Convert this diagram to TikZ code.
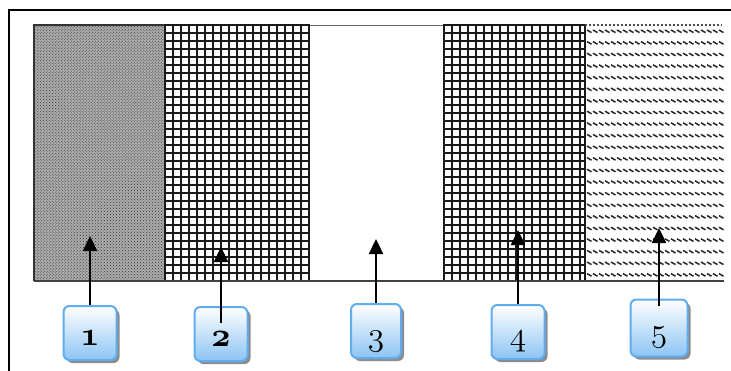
\documentclass[tikz,border=0pt]{standalone}
\usetikzlibrary{arrows.meta,shadows,patterns}
\definecolor{boxedge}{RGB}{95,172,238}
\definecolor{boxlow}{RGB}{140,196,243}
\newcommand\oldfig[1]{\scalebox{1.35}{\fontsize{24.88}{26}\usefont{OML}{cmm}{b}{it}#1}}
\newcommand\oldfiglight[1]{\scalebox{1.35}{\fontsize{24.88}{26}\usefont{OML}{cmm}{m}{it}#1}}
\begin{document}
\begin{tikzpicture}[x=1bp,y=-1bp,
  tag/.style={draw=boxedge, line width=2bp, rounded corners=6bp,
    top color=white, bottom color=boxlow,
    minimum width=53bp, minimum height=54bp, inner sep=0pt,
    drop shadow={shadow xshift=3bp, shadow yshift=-3bp, fill=black!45, opacity=1}},
  pointer/.style={line width=2.4bp, -{Triangle[length=15bp,width=14bp]}},
  digit/.style={anchor=base, inner sep=0pt},
  gridline/.style={line width=2bp, black!90},
  hatch/.style={line width=1.5bp, black!85},
]
\useasboundingbox (0,0) rectangle (731,370);

% outer frame (open to the right and bottom)
\draw[line width=2bp] (9,371) -- (9,10) -- (732,10);

% band 1: dense dark dots
\fill[black!32] (34,25) rectangle (164,281);
\fill[pattern=crosshatch dots, pattern color=black!80] (34,25) rectangle (164,281);
\draw[black!80, line width=1.2bp] (34,281) -- (34,25) -- (164,25);

% band 2: square grid
\foreach \i in {0,...,18}
  \draw[gridline] ({165+\i*8},25) -- ({165+\i*8},281);
\foreach \j in {0,...,32}
  \draw[gridline] (164,{25+\j*8}) -- (310,{25+\j*8});

% band 3: empty
\draw[black!60, line width=1bp] (310,25) -- (443,25);

% band 4: square grid
\foreach \i in {0,...,17}
  \draw[gridline] ({444+\i*8},25) -- ({444+\i*8},281);
\draw[gridline] (585,25) -- (585,281);
\foreach \j in {0,...,32}
  \draw[gridline] (443,{25+\j*8}) -- (585,{25+\j*8});

% band 5: rows of short slanted strokes
\draw[black!70, line width=1.4bp, dash pattern=on 2bp off 2bp] (585,25) -- (722,25);
\foreach \r in {0,...,21}
  \foreach \c in {0,...,22}
    \draw[hatch] ({587+\c*6},{30+\r*11.6}) -- ++(4.5,2.6);

% base line under the bands
\draw[black!75, line width=1.5bp] (34,281) -- (724,281);

% numbered tags
\node[tag] (b1) at (90,333) {};
\node[tag] (b2) at (221,334) {};
\node[tag, minimum width=50bp] (b3) at (376,331) {};
\node[tag] (b4) at (518,332) {};
\node[tag, minimum width=57bp, minimum height=57bp] (b5) at (659,328) {};

\node[digit] (n1) at ([yshift=-12bp]b1.center) {\oldfig{1}};
\node[digit] (n2) at ([yshift=-12bp]b2.center) {\oldfig{2}};
\node[digit] (n3) at ([yshift=-14bp]b3.center) {\oldfiglight{3}};
\node[digit] (n4) at ([yshift=-13bp]b4.center) {\oldfiglight{4}};
\node[digit] (n5) at ([yshift=-13bp]b5.center) {\oldfiglight{5}};

% arrow tips
\coordinate (t1) at (90,236);
\coordinate (t2) at (221,247);
\coordinate (t3) at (376,239);
\coordinate (t4) at (518,230);
\coordinate (t5) at (659,228);

\draw[pointer] (b1.north) -- (t1);
\draw[pointer] ([yshift=-17bp]b2.north) -- (t2);
\draw[pointer] (b3.north) -- (t3);
\draw[pointer] (b4.north) -- (t4);
\draw[pointer] ([yshift=-7bp]b5.north) -- (t5);
\end{tikzpicture}
\end{document}
